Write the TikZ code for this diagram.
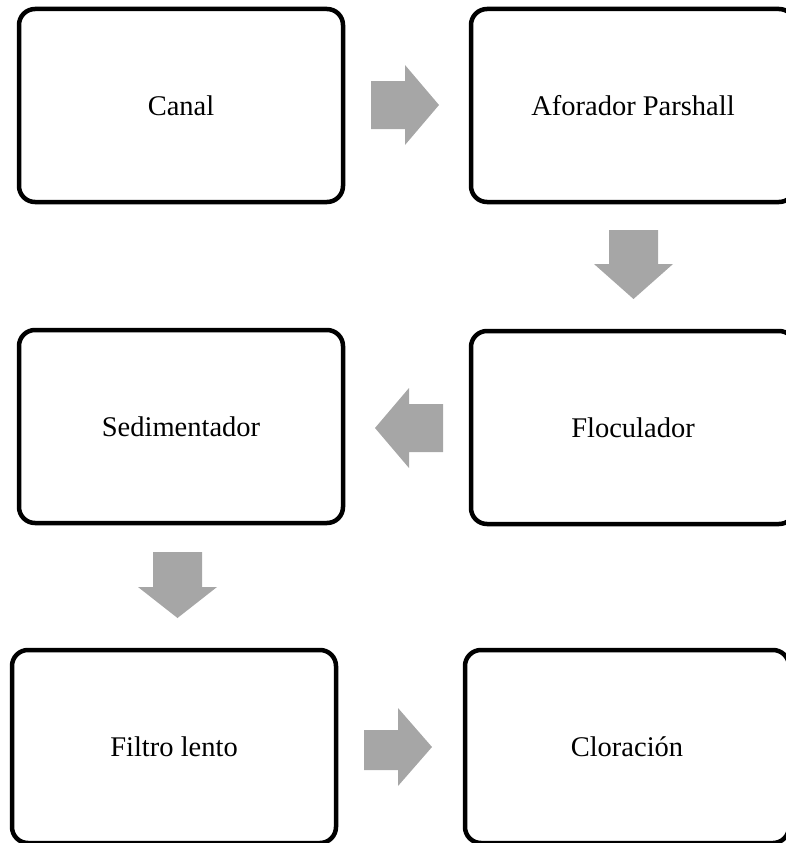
\documentclass[tikz,border=0pt]{standalone}
\usepackage{fontspec}
\setmainfont{Liberation Serif}
\definecolor{arrowgray}{RGB}{166,166,166}
\begin{document}
\begin{tikzpicture}[x=1pt,y=-1pt,
  box/.style={draw=black, line width=4.5pt, rounded corners=16pt, fill=white,
    minimum width=324pt, minimum height=193pt, inner sep=0pt,
    font=\fontsize{28.5}{34}\selectfont},
  blockarrow/.style={fill=arrowgray, draw=none}]
\useasboundingbox (0,0) rectangle (786,843);
\clip (0,0) rectangle (786,843);
\node[box] (canal) at (181,105.5) {Canal};
\node[box] (aforador) at (633,105.5) {Aforador Parshall};
\node[box] (floculador) at (633,427.5) {Floculador};
\node[box] (sedimentador) at (181,426.5) {Sedimentador};
\node[box] (filtro) at (174,746.5) {Filtro lento};
\node[box] (cloracion) at (627,746.5) {Cloración};
% block arrows
\fill[blockarrow] (371,81)--(405,81)--(405,65)--(439,105)--(405,145)--(405,129)--(371,129)--cycle;
\fill[blockarrow] (609,230)--(658,230)--(658,264)--(673,264)--(633.5,299)--(594,264)--(609,264)--cycle;
\fill[blockarrow] (443,404)--(409,404)--(409,388)--(375,428)--(409,468)--(409,452)--(443,452)--cycle;
\fill[blockarrow] (153,552)--(202,552)--(202,587)--(217,587)--(177.5,618)--(138,587)--(153,587)--cycle;
\fill[blockarrow] (364,730)--(398,730)--(398,708)--(432,747)--(398,786)--(398,770)--(364,770)--cycle;
\end{tikzpicture}
\end{document}
